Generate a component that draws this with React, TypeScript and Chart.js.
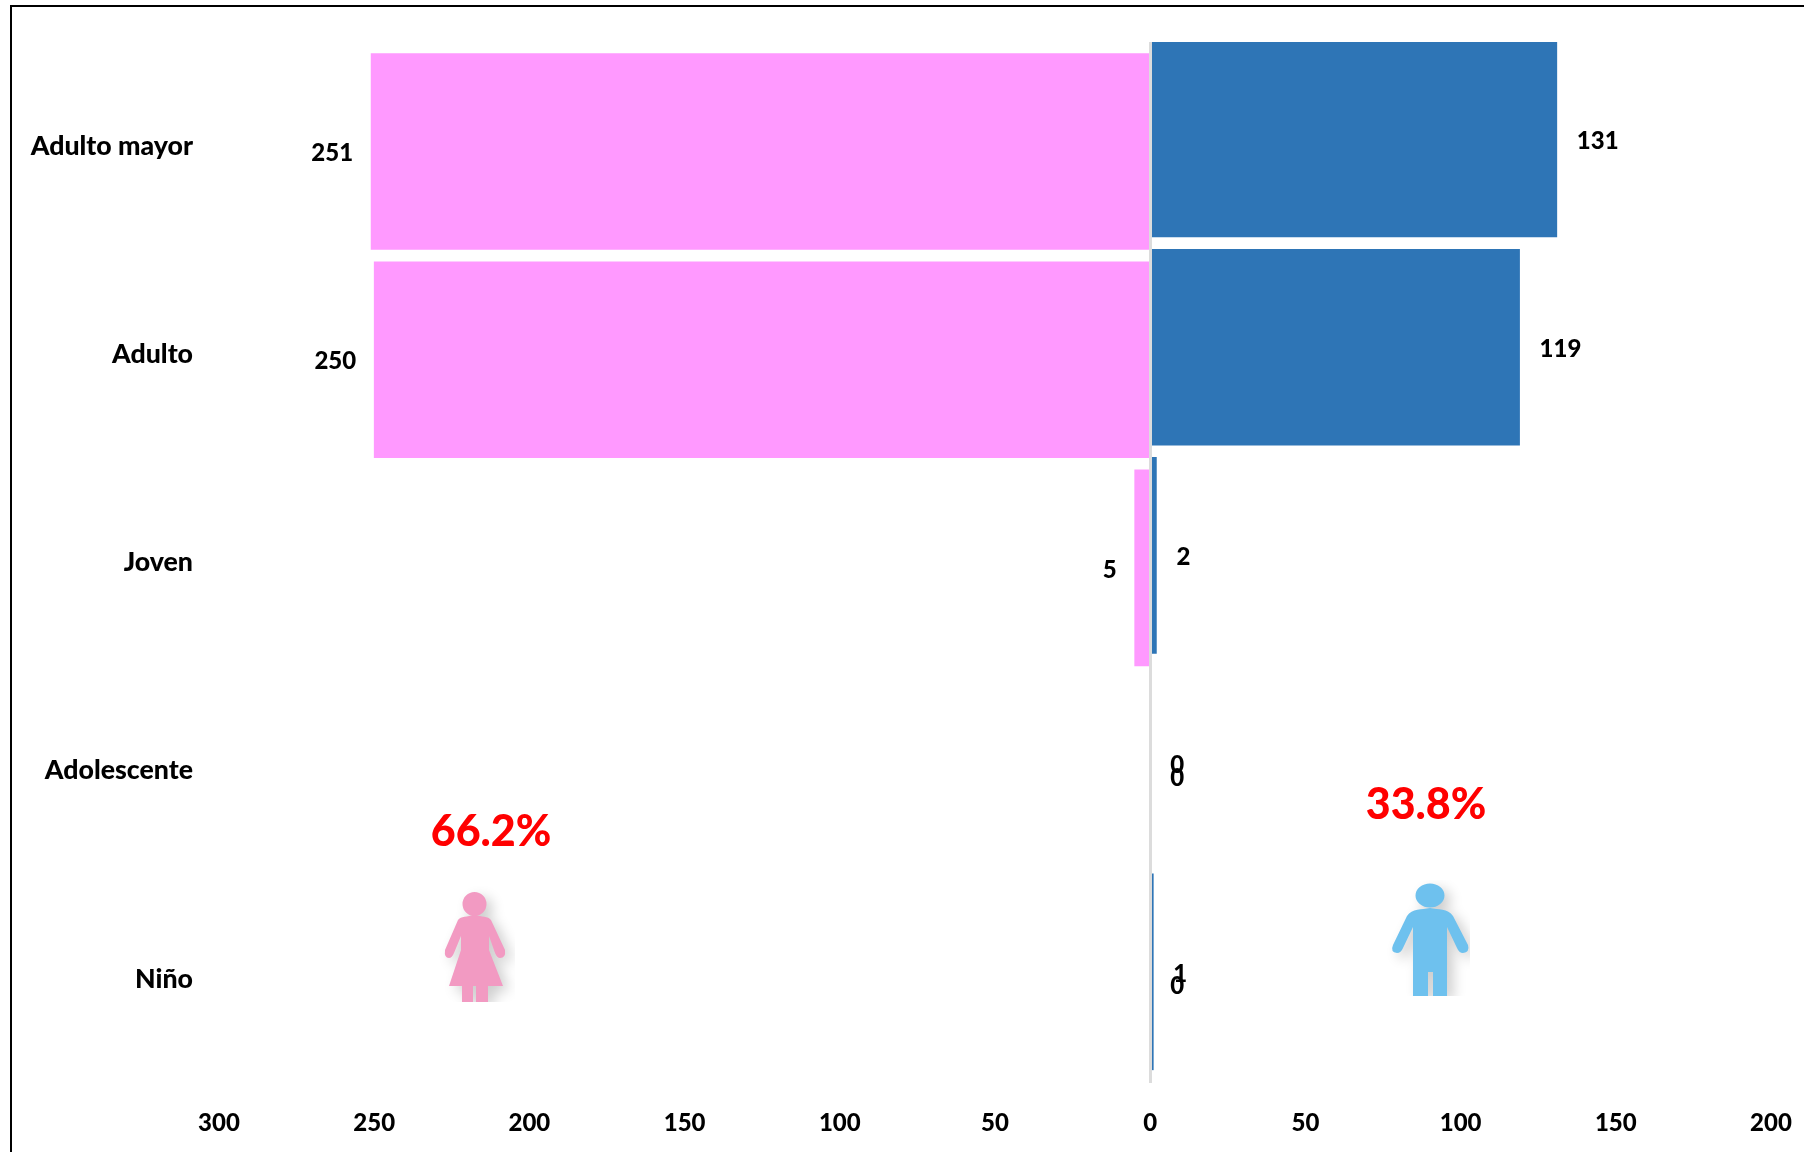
import React, { useEffect, useRef } from "react";
import { Chart, registerables } from "chart.js";

Chart.register(...registerables);

const categories = ["Adulto mayor", "Adulto", "Joven", "Adolescente", "Niño"];
const hombres = [131, 119, 2, 0, 1];
const mujeres = [251, 250, 5, 0, 0];
const totalMujeres = "66.2%";
const totalHombres = "33.8%";

const FONT = "Lato";
const BLUE = "#2E75B6";
const PINK = "#FF99FF";

const withShadow = (ctx: CanvasRenderingContext2D, clip: number[], draw: () => void) => {
  ctx.save();
  ctx.beginPath();
  ctx.rect(clip[0], clip[1], clip[2], clip[3]);
  ctx.clip();
  ctx.shadowColor = "rgba(0,0,0,0.2)";
  ctx.shadowBlur = 13;
  ctx.shadowOffsetX = 6;
  ctx.shadowOffsetY = 5;
  draw();
  ctx.restore();
};

const drawWoman = (ctx: CanvasRenderingContext2D) => {
  withShadow(ctx, [435, 885, 80, 117], () => {
    ctx.fillStyle = "#F29AC2";
    ctx.beginPath();
    ctx.ellipse(474.5, 904, 12, 12, 0, 0, Math.PI * 2);
    ctx.moveTo(474.5, 915);
    ctx.bezierCurveTo(482, 917, 488, 916, 491, 920);
    ctx.lineTo(505, 950);
    ctx.quadraticCurveTo(506, 958, 500, 958);
    ctx.quadraticCurveTo(497, 958, 495, 953);
    ctx.lineTo(489, 936);
    ctx.lineTo(489, 950);
    ctx.lineTo(503, 986);
    ctx.lineTo(488, 986);
    ctx.lineTo(488, 1002);
    ctx.lineTo(476, 1002);
    ctx.lineTo(476, 986);
    ctx.lineTo(473, 986);
    ctx.lineTo(473, 1002);
    ctx.lineTo(462, 1002);
    ctx.lineTo(462, 986);
    ctx.lineTo(449, 986);
    ctx.lineTo(461, 950);
    ctx.lineTo(461, 936);
    ctx.lineTo(454, 953);
    ctx.quadraticCurveTo(452, 958, 449, 958);
    ctx.quadraticCurveTo(444, 958, 445, 950);
    ctx.lineTo(458, 920);
    ctx.bezierCurveTo(461, 916, 467, 917, 474.5, 915);
    ctx.closePath();
    ctx.fill();
  });
};

const drawMan = (ctx: CanvasRenderingContext2D) => {
  withShadow(ctx, [1385, 880, 85, 116], () => {
    ctx.fillStyle = "#6EC1EE";
    ctx.beginPath();
    ctx.ellipse(1430, 895.5, 14.5, 12, 0, 0, Math.PI * 2);
    ctx.moveTo(1430, 908);
    ctx.bezierCurveTo(1438, 910, 1448, 908, 1453, 916);
    ctx.lineTo(1468, 945);
    ctx.quadraticCurveTo(1470, 952, 1463, 953);
    ctx.quadraticCurveTo(1459, 953, 1457, 948);
    ctx.lineTo(1447, 927);
    ctx.lineTo(1447, 996);
    ctx.lineTo(1433, 996);
    ctx.lineTo(1433, 972);
    ctx.lineTo(1428, 972);
    ctx.lineTo(1428, 996);
    ctx.lineTo(1413, 996);
    ctx.lineTo(1413, 927);
    ctx.lineTo(1403, 948);
    ctx.quadraticCurveTo(1401, 953, 1397, 953);
    ctx.quadraticCurveTo(1390, 952, 1393, 945);
    ctx.lineTo(1407, 916);
    ctx.bezierCurveTo(1412, 908, 1422, 910, 1430, 908);
    ctx.closePath();
    ctx.fill();
  });
};

const annotations = {
  id: "annotations",
  afterDatasetsDraw(chart: any) {
    const ctx: CanvasRenderingContext2D = chart.ctx;
    const zero = chart.scales.x.getPixelForValue(0);
    ctx.save();
    ctx.fillStyle = "#000";
    ctx.font = `900 24px ${FONT}`;
    ctx.textBaseline = "middle";
    chart.data.datasets.forEach((ds: any, d: number) => {
      chart.getDatasetMeta(d).data.forEach((el: any, i: number) => {
        const v = ds.data[i].x;
        if (v < 0) {
          ctx.textAlign = "right";
          ctx.fillText(String(-v), el.x - 18, el.y + 2);
        } else {
          ctx.textAlign = "left";
          ctx.fillText(String(v), (v === 0 ? zero : el.x) + 20, el.y + 2);
        }
      });
    });
    drawWoman(ctx);
    drawMan(ctx);
    ctx.fillStyle = "#FF0000";
    ctx.font = `900 43px ${FONT}`;
    ctx.textAlign = "center";
    ctx.fillText(totalMujeres, 491, 832);
    ctx.fillText(totalHombres, 1426, 805);
    ctx.restore();
  },
};

export default function App() {
  const ref = useRef<HTMLCanvasElement>(null);
  useEffect(() => {
    const chart = new Chart(ref.current as HTMLCanvasElement, {
      type: "bar",
      data: {
        labels: categories,
        datasets: [
          {
            label: "Hombres",
            data: hombres.map((v, i) => ({ x: v, y: i })),
            backgroundColor: BLUE,
            yAxisID: "yHombres",
            grouped: false,
            barThickness: 196,
          },
          {
            label: "Mujeres",
            data: mujeres.map((v, i) => ({ x: v === 0 ? 0 : -v, y: i })),
            backgroundColor: PINK,
            yAxisID: "yMujeres",
            grouped: false,
            barThickness: 196,
          },
        ],
      } as any,
      options: {
        indexAxis: "y",
        responsive: false,
        animation: false,
        devicePixelRatio: 1,
        layout: { padding: { left: 0, right: 33, top: 41, bottom: 0 } },
        plugins: { legend: { display: false }, tooltip: { enabled: false } },
        scales: {
          x: {
            type: "linear",
            min: -300,
            max: 200,
            afterFit: (s: any) => {
              s.height = 69;
              s.paddingLeft = 0;
              s.paddingRight = 0;
            },
            border: { display: false },
            grid: {
              z: 1,
              drawTicks: false,
              lineWidth: 3,
              color: (c: any) => (c.tick && c.tick.value === 0 ? "#DCDCDC" : "transparent"),
            },
            ticks: {
              stepSize: 50,
              padding: 26,
              maxRotation: 0,
              color: "#000",
              font: { family: FONT, weight: "900", size: 24 },
              callback: (v: any) => String(Math.abs(Number(v))),
            },
          },
          y: {
            type: "category",
            position: "left",
            offset: true,
            afterFit: (s: any) => {
              s.width = 219;
            },
            border: { display: false },
            grid: { display: false, drawTicks: false },
            ticks: {
              padding: 26,
              color: "#000",
              font: { family: FONT, weight: "900", size: 26.7 },
            },
          },
          yHombres: { type: "linear", display: false, offset: false, reverse: true, min: -0.466, max: 4.534 },
          yMujeres: { type: "linear", display: false, offset: false, reverse: true, min: -0.526, max: 4.474 },
        },
      } as any,
      plugins: [annotations],
    });
    return () => chart.destroy();
  }, []);
  return (
    <div style={{ position: "fixed", left: 0, top: 0, width: 1804, height: 1152, background: "#fff", overflow: "hidden" }}>
      <canvas ref={ref} width={1804} height={1152} style={{ display: "block" }} />
      <div
        style={{
          position: "absolute",
          left: 10,
          top: 5,
          width: 1794,
          height: 1147,
          boxSizing: "border-box",
          borderLeft: "2px solid #000",
          borderTop: "2px solid #000",
          pointerEvents: "none",
        }}
      />
    </div>
  );
}
